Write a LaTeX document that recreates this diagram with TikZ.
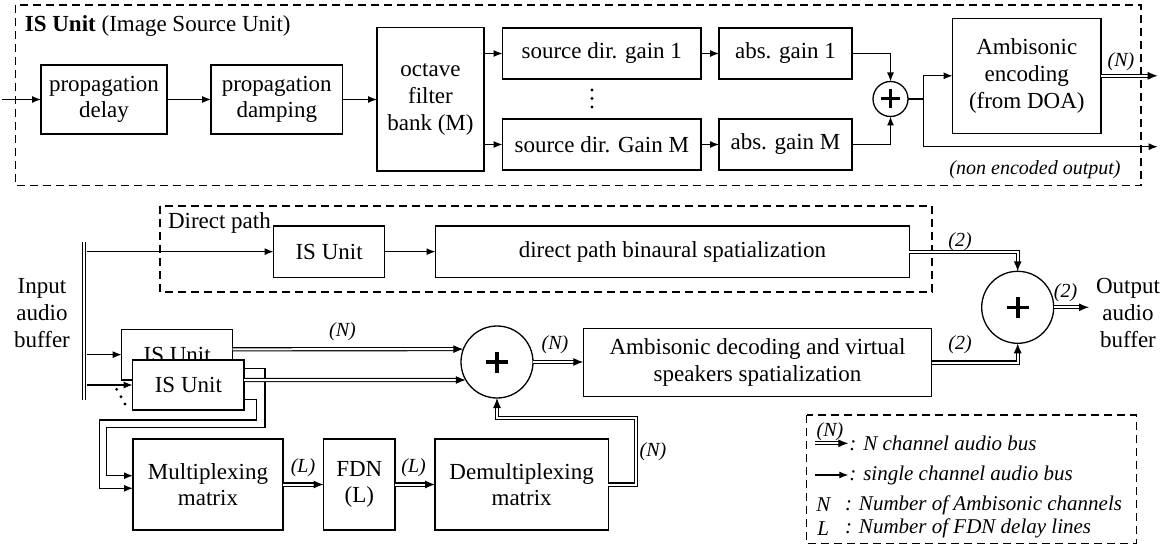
\documentclass[tikz,border=0pt]{standalone}
\usepackage{fontspec}
\setmainfont{Liberation Serif}
\usetikzlibrary{arrows.meta,calc}
\begin{document}
\begin{tikzpicture}[x=1pt,y=-1pt,
 every node/.style={inner sep=0pt,outer sep=0pt},
 blk/.style={draw,line width=1.3pt,fill=white,align=center,font=\fontsize{23}{26.7}\selectfont},
 sumc/.style={circle,draw,line width=1.3pt,fill=white},
 arr/.style={line width=1.2pt,-{Latex[length=9pt,width=7pt]}},
 sline/.style={line width=1.2pt},
 dbl/.style={double,double distance=2pt,line width=1.1pt,-{Latex[length=10pt,width=8pt]}},
 dblline/.style={double,double distance=2.6pt,line width=1.1pt},
 dbox/.style={draw,line width=1.2pt,dash pattern=on 8pt off 5pt},
 lbl/.style={font=\fontsize{20}{24}\selectfont\itshape},
 txt/.style={font=\fontsize{23}{27}\selectfont,align=center},
 leg/.style={font=\fontsize{21}{24}\selectfont\itshape,anchor=west},
 plusbar/.style={line width=3pt},
 bigplus/.style={line width=3.6pt},
 dotm/.style={fill=black,circle,minimum size=3.2pt},
]
\useasboundingbox (0,0) rectangle (1170,548);

% ===== top: IS Unit detail =====
\draw[dbox] (15.3,5) rectangle (1141,185.7);
\node[txt,anchor=base west] (title) at (24.9,31.7) {\textbf{IS Unit} (Image Source Unit)};

\node[blk,minimum width=126pt,minimum height=69pt] (pdelay) at (104,99.5) {propagation\\delay};
\node[blk,minimum width=131.5pt,minimum height=69pt] (pdamp) at (276.75,99.5) {propagation\\damping};
\node[blk,minimum width=107pt,minimum height=143.3pt] (oct) at (430.5,99.35) {octave\\filter\\bank (M)};
\node[blk,minimum width=198.5pt,minimum height=51pt] (sdg1) at (601.75,53.5) {source dir. gain 1};
\node[blk,minimum width=198.5pt,minimum height=51pt] (sdgM) at (601.75,144.5) {source dir. Gain M};
\node[blk,minimum width=133pt,minimum height=51pt] (abs1) at (785.5,53.5) {abs. gain 1};
\node[blk,minimum width=133pt,minimum height=51pt] (absM) at (785.5,144.5) {abs. gain M};
\node[sumc,minimum size=35pt] (sum1) at (890.5,99) {};
\draw[plusbar] ([xshift=-9.5pt]sum1.center) -- ([xshift=9.5pt]sum1.center);
\draw[plusbar] ([yshift=-9.5pt]sum1.center) -- ([yshift=9.5pt]sum1.center);
\node[blk,minimum width=148.4pt,minimum height=115pt] (ambenc) at (1026.8,75.8) {Ambisonic\\encoding\\(from DOA)};

\node[dotm] (vd1) at (592,90) {};
\node[dotm] (vd2) at (592,98.5) {};
\node[dotm] (vd3) at (592,107) {};

\coordinate (in0) at (2,99.5);
\draw[arr] (in0) -- (pdelay.west);
\draw[arr] (pdelay.east) -- (pdamp.west);
\draw[arr] (pdamp.east) -- (pdamp.east -| oct.west);
\draw[arr] (oct.east |- sdg1.west) -- (sdg1.west);
\draw[arr] (oct.east |- sdgM.west) -- (sdgM.west);
\draw[arr] (sdg1.east) -- (abs1.west);
\draw[arr] (sdgM.east) -- (absM.west);
\draw[arr] (abs1.east) -| (sum1.north);
\draw[arr] (absM.east) -| (sum1.south);
\coordinate (br) at (923.6,99);
\draw[sline] (sum1.east) -- (br);
\draw[arr] (br) |- (ambenc.west);
\coordinate (neo) at (1157.7,146.7);
\draw[arr] (br) |- (neo);
\coordinate (encout) at (1157.7,75.8);
\draw[dbl] (ambenc.east) -- (encout);
\node[lbl] (lN0) at (1121,62) {(N)};
\node[lbl] (lneo) at (1035,170) {(non encoded output)};

% ===== bottom =====
\draw[dbox] (160,206) rectangle (932,292);
\node[txt,anchor=base west] (dptxt) at (168,229) {Direct path};

\coordinate (busT) at (84,242);
\coordinate (busB) at (84,400);
\draw[dblline] (busT) -- (busB);
\node[txt] (inbuf) at (42,313.5) {Input\\audio\\buffer};

\node[blk,minimum width=111pt,minimum height=51.3pt] (dpis) at (329.1,251.65) {IS Unit};
\node[blk,minimum width=473.8pt,minimum height=51.3pt] (bin) at (672.4,251.65) {direct path binaural spatialization};
\coordinate (b0) at (86.5,251.65);
\draw[arr] (b0) -- (dpis.west);
\draw[arr] (dpis.east) -- (bin.west);

\node[sumc,minimum size=72pt] (osum) at (1017.7,307.3) {};
\draw[bigplus] ([xshift=-11pt]osum.center) -- ([xshift=11pt]osum.center);
\draw[bigplus] ([yshift=-10.5pt]osum.center) -- ([yshift=10.5pt]osum.center);
\draw[dbl] (bin.east) -| (osum.north);
\node[lbl] (l2a) at (960,241.7) {(2)};

\node[blk,minimum width=348.4pt,minimum height=68.4pt] (ambdec) at (757.5,362.5) {Ambisonic decoding and virtual\\speakers spatialization};
\draw[dbl] (ambdec.east) -| (osum.south);
\node[lbl] (l2b) at (960,345) {(2)};
\coordinate (outend) at (1089,307.3);
\draw[dbl] (osum.east) -- (outend);
\node[lbl] (l2c) at (1065.5,293) {(2)};
\node[txt] (outbuf) at (1128,313) {Output\\audio\\buffer};

\node[blk,minimum width=150pt,minimum height=91pt] (mux) at (208,484.5) {Multiplexing\\matrix};
\node[blk,minimum width=71.4pt,minimum height=91pt] (fdn) at (359.3,484.5) {FDN\\(L)};
\node[blk,minimum width=173.3pt,minimum height=91pt] (demux) at (521.65,484.5) {Demultiplexing\\matrix};
\draw[dbl] (mux.east) -- (fdn.west);
\draw[dbl] (fdn.east) -- (demux.west);
\node[lbl] (lL1) at (303,468) {(L)};
\node[lbl] (lL2) at (413.6,468) {(L)};

\node[sumc,minimum size=72pt] (csum) at (497,362) {};
\draw[bigplus] ([xshift=-11pt]csum.center) -- ([xshift=11pt]csum.center);
\draw[bigplus] ([yshift=-10.5pt]csum.center) -- ([yshift=10.5pt]csum.center);
\draw[dbl] (csum.east) -- (csum.east -| ambdec.west);
\node[lbl] (lN2) at (555,345) {(N)};
\coordinate (fb) at (636,418.3);
\draw[dbl] (demux.east) -| (fb) -| (csum.south);
\node[lbl] (lN3) at (653,451.7) {(N)};

% IS unit 1 (behind)
\node[blk,minimum width=111pt,minimum height=50.7pt] (is1) at (177.2,354.65) {IS Unit};
\coordinate (b1) at (86.5,354.65);
\draw[arr] (b1) -- (is1.west);
\draw[dbl] ([yshift=5.35pt]is1.east) -- (csum.159.3);
\node[lbl] (lN1) at (342.5,331.7) {(N)};
\draw[arr] ([yshift=-13.65pt]is1.east) -| (265,427.7) -| (106.7,475.7) -- ([yshift=8.8pt]mux.west);

% IS unit 2 (front)
\node[blk,minimum width=111.3pt,minimum height=50pt] (is2) at (188.35,385) {IS Unit};
\coordinate (b2) at (86.5,385);
\draw[arr] (b2) -- (is2.west);
\draw[dbl] ([yshift=5pt]is2.east) -- (csum.210);
\draw[arr] ([yshift=-14.3pt]is2.east) -| (256.7,420) -| (99.3,488.3) -- ([yshift=-3.8pt]mux.west);

\node[dotm] (dd1) at (116.7,389.3) {};
\node[dotm] (dd2) at (121,396.7) {};
\node[dotm] (dd3) at (125,404) {};

% ===== legend =====
\draw[dbox] (806.7,415) rectangle (1136.7,543.3);
\node[lbl] (lgN) at (830,431.7) {(N)};
\coordinate (lg1a) at (815,443.3);
\coordinate (lg1b) at (848.3,443.3);
\draw[dbl] (lg1a) -- (lg1b);
\node[leg] (lgt1) at (849.3,443.3) {: N channel audio bus};
\coordinate (lg2a) at (815,475);
\coordinate (lg2b) at (848.3,475);
\draw[arr] (lg2a) -- (lg2b);
\node[leg] (lgt2) at (849.3,475) {: single channel audio bus};
\node[leg,anchor=center] (lgt3a) at (823.3,505) {N};
\node[leg] (lgt3) at (845,505) {: Number of Ambisonic channels};
\node[leg,anchor=center] (lgt4a) at (823.3,528.3) {L};
\node[leg] (lgt4) at (845,528.3) {: Number of FDN delay lines};
\end{tikzpicture}
\end{document}
